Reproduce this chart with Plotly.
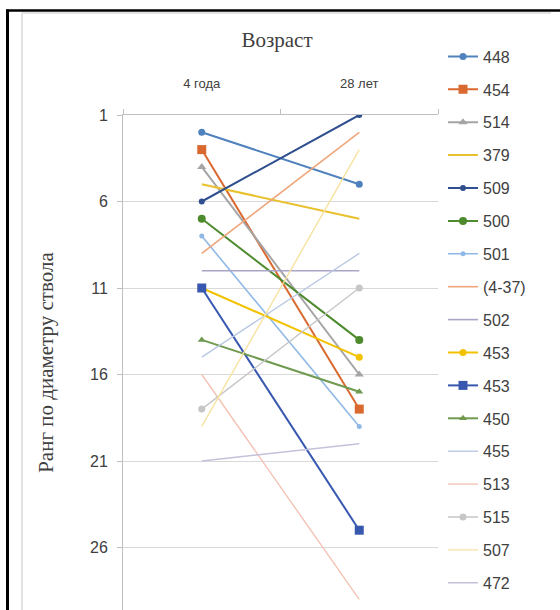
import plotly.graph_objects as go

# Ranks of stem diameter at two ages for each tree
ages = ["4 года", "28 лет"]
trees = ["448", "454", "514", "379", "509", "500", "501", "(4-37)", "502",
         "453", "453", "450", "455", "513", "515", "507", "472"]
rank_4 = [2, 3, 4, 5, 6, 7, 8, 9, 10, 11, 11, 14, 15, 16, 18, 19, 21]
rank_28 = [5, 18, 16, 7, 1, 14, 19, 2, 10, 15, 25, 17, 9, 29, 11, 3, 20]
rank_ticks = [1, 6, 11, 16, 21, 26]

# Styling per tree: colour, marker symbol (None = line only), line width
colors = ["#4f81bd", "#d9692e", "#a5a5a5", "#e9c02e", "#2f4f8f", "#4e8a2e",
          "#8fb8e6", "#eea57a", "#aaa5c6", "#f2c200", "#3858b0", "#6f9a4f",
          "#b9c8e2", "#f3c3b4", "#c6c6c6", "#f7e2a0", "#c4c1da"]
symbols = ["circle", "square", "triangle-up", None, "circle", "circle",
           "circle", None, None, "circle", "square", "triangle-up",
           None, None, "circle", None, None]
marker_sizes = [7, 9, 8, 0, 6, 8, 5, 0, 0, 7, 9, 7, 0, 0, 7, 0, 0]
widths = [2, 2, 2, 2, 2, 2, 1.6, 1.6, 1.6, 2, 2, 2, 1.4, 1.4, 1.4, 1.4, 1.4]

W, H = 560, 610
L, R, T, B = 123, 438, 115, 610

fig = go.Figure()
for i, name in enumerate(trees):
    mode = "lines+markers" if symbols[i] else "lines"
    fig.add_trace(go.Scatter(
        x=ages, y=[rank_4[i], rank_28[i]], name=name, mode=mode,
        legendgroup=f"g{i}",
        line=dict(color=colors[i], width=widths[i]),
        marker=dict(symbol=symbols[i] or "circle", size=marker_sizes[i] or 1,
                    color=colors[i]),
    ))


def px_x(px):
    return (px - L) / (R - L)


def px_y(py):
    return (B - py) / (B - T)


lab_font = "Liberation Sans, Arial, sans-serif"
serif = "Liberation Serif, Times New Roman, serif"
top_rank = 1
bottom_rank = 1 + (B - T) / 17.3

fig.update_layout(
    width=W, height=H,
    margin=dict(l=L, r=W - R, t=T, b=H - B, pad=0),
    paper_bgcolor="white", plot_bgcolor="white",
    title=dict(text="Возраст", x=277 / W, xref="container", xanchor="center",
               y=1 - 40 / H, yref="container", yanchor="middle",
               font=dict(family=serif, size=21, color="#404040")),
    showlegend=True,
    legend=dict(x=px_x(443), xanchor="left", y=px_y(39.5), yanchor="top",
                font=dict(family=lab_font, size=16, color="#404040"),
                tracegroupgap=9.1, bgcolor="rgba(0,0,0,0)", maxheight=600,
                itemclick=False, itemdoubleclick=False),
    xaxis=dict(type="category", categoryorder="array", categoryarray=ages,
               side="top", range=[-0.5, 1.5], showgrid=False,
               showline=True, linecolor="#bfbfbf", linewidth=1,
               ticks="outside", tickson="boundaries", ticklen=5,
               tickcolor="#bfbfbf", ticklabelstandoff=21,
               tickfont=dict(family=lab_font, size=13, color="#404040"),
               fixedrange=True),
    yaxis=dict(range=[bottom_rank, top_rank], tickmode="array",
               tickvals=rank_ticks, ticktext=[str(v) for v in rank_ticks],
               showgrid=True, gridcolor="#d9d9d9", gridwidth=1,
               zeroline=False, showline=True, linecolor="#bfbfbf",
               linewidth=1, ticks="outside", ticklen=5, tickcolor="#bfbfbf",
               ticklabelstandoff=6,
               tickfont=dict(family=lab_font, size=16, color="#404040"),
               title=dict(text="Ранг по диаметру ствола", standoff=30,
                          font=dict(family=serif, size=21, color="#404040")),
               fixedrange=True),
)

# Chart-area border (left and top) and the outer black frame
fig.add_shape(type="line", xref="paper", yref="paper",
              x0=px_x(22), x1=px_x(22), y0=px_y(13), y1=px_y(612),
              line=dict(color="#d9d9d9", width=1.5))
fig.add_shape(type="line", xref="paper", yref="paper",
              x0=px_x(22), x1=px_x(551), y0=px_y(13), y1=px_y(13),
              line=dict(color="#d9d9d9", width=1.5))
fig.add_shape(type="line", xref="paper", yref="paper",
              x0=px_x(7.5), x1=px_x(7.5), y0=px_y(9.5), y1=px_y(612),
              line=dict(color="black", width=3))
fig.add_shape(type="line", xref="paper", yref="paper",
              x0=px_x(6), x1=px_x(562), y0=px_y(10.5), y1=px_y(10.5),
              line=dict(color="black", width=2.5))

fig.write_html("out.html", config={"displayModeBar": False})
